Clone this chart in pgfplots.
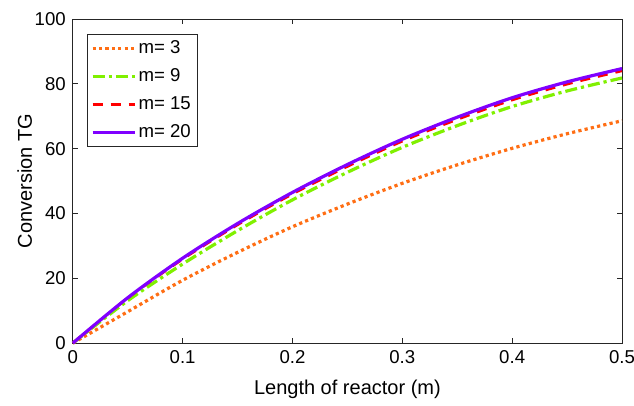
\documentclass[border=0pt]{standalone}
\usepackage{fontspec}
\setmainfont{Liberation Sans}
\setsansfont{Liberation Sans}
\usepackage{pgfplots}
\pgfplotsset{compat=1.18}
\usetikzlibrary{calc}
\definecolor{cOrange}{RGB}{255,110,20}
\definecolor{cGreen}{RGB}{128,240,0}
\definecolor{cRed}{RGB}{255,0,0}
\definecolor{cPurple}{RGB}{128,0,255}
\definecolor{axgray}{RGB}{38,38,38}
\begin{document}
\begin{tikzpicture}[font=\fontsize{9}{10}\selectfont]
\begin{axis}[
  name=ax,
  scale only axis,
  width=274.5pt, height=162pt,
  xmin=0, xmax=0.5, ymin=0, ymax=100,
  xtick={0,0.1,0.2,0.3,0.4,0.5},
  xticklabels={0,0.1,0.2,0.3,0.4,0.5},
  ytick={0,20,40,60,80,100},
  tick align=inside,
  major tick length=2.5pt,
  axis line style={axgray, line width=0.5pt},
  every tick/.style={axgray, line width=0.5pt},
  /pgf/number format/assume math mode=true,
  ticklabel style={font=\fontsize{9.3}{10}\selectfont},
  xlabel={Length of reactor (m)},
  ylabel={Conversion TG},
  label style={font=\fontsize{10}{11}\selectfont},
  xlabel style={yshift=-1.5pt},
  ylabel style={yshift=-5.5pt},
  legend style={at={(0.025,0.955)}, anchor=north west, draw=axgray, line width=0.4pt,
    inner sep=2pt, row sep=3.6pt, font=\fontsize{9.3}{10}\selectfont,
    nodes={inner sep=1.2pt}},
  legend cell align=left,
  legend image code/.code={\draw[#1] (0pt,0pt) -- (21pt,0pt);},
  clip=false,
]
\addplot[cOrange, line width=1.6pt, dash pattern=on 1.6pt off 1.6pt, smooth] coordinates {
 (0,0) (0.05,9.7) (0.1,19.4) (0.15,28.0) (0.2,35.9) (0.25,42.9) (0.3,49.3) (0.35,55.0) (0.4,60.1) (0.45,64.6) (0.5,68.6)};
\addlegendentry{m= 3}
\addplot[cGreen, line width=1.6pt, dash pattern=on 6pt off 2pt on 1.6pt off 2pt, smooth] coordinates {
 (0,0) (0.05,13.1) (0.1,24.4) (0.15,34.7) (0.2,44.2) (0.25,52.7) (0.3,60.4) (0.35,67.1) (0.4,73.0) (0.45,77.8) (0.5,81.8)};
\addlegendentry{m= 9}
\addplot[cRed, line width=1.3pt, dash pattern=on 5pt off 4pt, smooth] coordinates {
 (0,0) (0.05,13.9) (0.1,25.9) (0.15,36.5) (0.2,46.0) (0.25,54.5) (0.3,62.3) (0.35,69.0) (0.4,75.0) (0.45,79.9) (0.5,84.0)};
\addlegendentry{m= 15}
\addplot[cPurple, line width=1.6pt, smooth] coordinates {
 (0,0) (0.05,14.0) (0.1,26.2) (0.15,36.9) (0.2,46.5) (0.25,55.1) (0.3,62.9) (0.35,69.7) (0.4,75.7) (0.45,80.6) (0.5,84.7)};
\addlegendentry{m= 20}
\end{axis}
\pgfresetboundingbox
\path[use as bounding box] ($(ax.south west)+(-36.4pt,-31.4pt)$) rectangle ($(ax.north east)+(6pt,9.5pt)$);
\end{tikzpicture}
\end{document}
